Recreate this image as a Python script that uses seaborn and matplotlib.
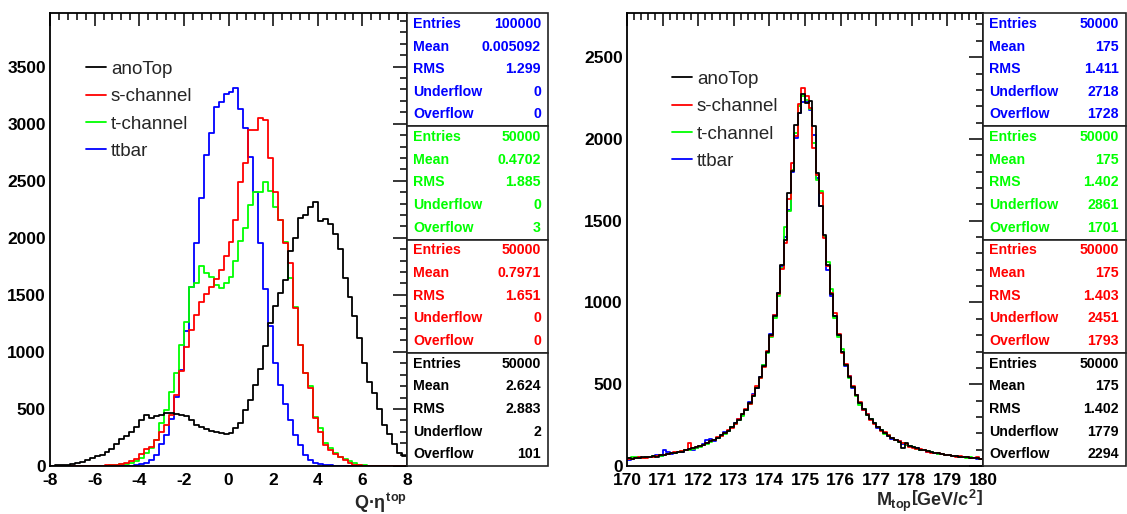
import numpy as np
import pandas as pd
import seaborn as sns
import matplotlib
matplotlib.use("Agg")
import matplotlib.pyplot as plt
from matplotlib.ticker import MultipleLocator
from matplotlib.lines import Line2D
from matplotlib.patches import Rectangle

# ---------------- data ----------------
samples = ["anoTop", "s-channel", "t-channel", "ttbar"]
sample_colors = {"anoTop": "#000000", "s-channel": "#ff0000",
                 "t-channel": "#00ff00", "ttbar": "#0000ff"}

# Q*eta(top): 72 bins on [-8, 8]
qeta_range = (-8.0, 8.0)
qeta_nbins = 72
qeta_anotop = [3, 5, 8, 12, 18, 22, 35, 50, 70, 85,
               100, 120, 150, 190, 235, 265, 300, 340, 400, 445,
               420, 435, 450, 462, 465, 458, 450, 440, 405, 360,
               340, 320, 310, 300, 290, 280, 290, 330, 380, 490,
               580, 710, 850, 1050, 1250, 1400, 1520, 1630, 1880, 2000,
               2170, 2200, 2270, 2315, 2150, 2165, 2120, 2030, 1900, 1650,
               1485, 1315, 1120, 900, 740, 640, 500, 360, 280, 190,
               115, 90]
qeta_schan = [0, 0, 0, 0, 0, 0, 0, 0, 1, 2,
              3, 5, 8, 12, 18, 25, 40, 65, 105, 150,
              170, 225, 300, 360, 450, 620, 830, 1040, 1190, 1320,
              1440, 1510, 1570, 1640, 1720, 1840, 1960, 2157, 2485, 2654,
              2947, 2947, 3049, 3035, 2698, 2405, 2160, 1950, 1778, 1382,
              1061, 812, 680, 418, 301, 184, 140, 105, 82, 53,
              23, 10, 5, 2, 1, 0, 0, 0, 0, 0,
              0, 0]
qeta_tchan = [0, 0, 0, 0, 0, 0, 0, 0, 0, 1,
              2, 4, 6, 10, 15, 20, 30, 45, 70, 111,
              155, 228, 374, 491, 652, 812, 1061, 1266, 1570, 1600,
              1754, 1690, 1660, 1586, 1558, 1603, 1660, 1800, 1974, 2090,
              2290, 2397, 2405, 2485, 2414, 2274, 2157, 1967, 1646, 1390,
              1060, 818, 700, 430, 330, 200, 155, 111, 80, 60,
              40, 23, 12, 6, 3, 1, 0, 0, 0, 0,
              0, 0]
qeta_ttbar = [0, 0, 0, 0, 0, 0, 0, 0, 0, 0,
              0, 0, 0, 0, 0, 2, 4, 8, 15, 30,
              55, 100, 190, 270, 410, 608, 840, 1180, 1570, 1958,
              2347, 2727, 2917, 3145, 3189, 3262, 3280, 3312, 3128, 2961,
              2707, 2397, 1958, 1550, 1230, 900, 711, 540, 400, 270,
              185, 100, 55, 30, 18, 10, 6, 4, 2, 1,
              0, 0, 0, 0, 0, 0, 0, 0, 0, 0,
              0, 0]

# M(top): 100 bins on [170, 180] GeV/c^2
mtop_range = (170.0, 180.0)
mtop_nbins = 100
mtop_anotop = [47, 42, 48, 50, 55, 52, 56, 62, 58, 65,
               70, 74, 78, 80, 85, 88, 96, 102, 108, 115,
               122, 130, 138, 150, 158, 170, 188, 200, 215, 236,
               262, 280, 318, 345, 388, 430, 480, 546, 612, 700,
               800, 920, 1060, 1230, 1383, 1669, 1801, 2083, 2158, 2277,
               2220, 2234, 2077, 1790, 1587, 1414, 1230, 1050, 918, 800,
               700, 615, 545, 482, 432, 386, 348, 312, 285, 260,
               238, 218, 200, 186, 172, 160, 145, 110, 140, 120,
               114, 108, 100, 96, 90, 86, 80, 77, 74, 70,
               66, 63, 60, 58, 55, 53, 50, 48, 46, 44]
mtop_schan = [45, 40, 50, 52, 48, 50, 58, 55, 62, 68,
              70, 72, 80, 84, 86, 92, 95, 140, 110, 115,
              125, 128, 140, 150, 158, 175, 185, 200, 222, 232,
              255, 290, 318, 350, 380, 432, 488, 538, 605, 705,
              795, 925, 1050, 1205, 1363, 1634, 1852, 2016, 2213, 2311,
              2260, 2189, 1944, 1781, 1669, 1393, 1220, 1060, 935, 805,
              690, 625, 548, 490, 436, 392, 340, 320, 280, 255,
              240, 215, 205, 190, 170, 158, 150, 140, 132, 118,
              112, 105, 102, 95, 88, 82, 80, 78, 72, 68,
              65, 64, 58, 60, 55, 52, 50, 47, 52, 42]
mtop_tchan = [50, 58, 55, 48, 50, 56, 55, 62, 60, 64,
              68, 75, 78, 80, 88, 90, 96, 98, 105, 112,
              118, 126, 135, 145, 160, 170, 182, 198, 212, 240,
              258, 280, 305, 340, 380, 425, 485, 540, 615, 690,
              790, 905, 1040, 1210, 1460, 1557, 1810, 2036, 2199, 2260,
              2240, 2180, 1975, 1750, 1679, 1400, 1250, 1080, 905, 790,
              715, 620, 540, 485, 425, 375, 350, 310, 290, 265,
              238, 218, 198, 188, 172, 160, 148, 140, 128, 122,
              115, 105, 98, 96, 92, 85, 78, 76, 74, 70,
              66, 62, 60, 56, 54, 50, 52, 48, 46, 45]
mtop_ttbar = [38, 44, 46, 50, 49, 55, 53, 60, 66, 62,
              95, 88, 75, 80, 84, 88, 97, 104, 100, 113,
              120, 132, 160, 165, 155, 170, 190, 205, 215, 238,
              262, 286, 312, 345, 392, 440, 478, 545, 620, 700,
              810, 925, 1060, 1220, 1400, 1565, 1795, 2005, 2160, 2226,
              2224, 2179, 2026, 1760, 1590, 1398, 1200, 1040, 920, 800,
              700, 610, 550, 478, 432, 385, 345, 318, 285, 262,
              235, 220, 200, 185, 168, 162, 150, 136, 128, 122,
              115, 110, 100, 96, 88, 86, 80, 76, 72, 70,
              66, 62, 60, 56, 54, 52, 48, 49, 45, 44]

# statistics boxes (top to bottom: ttbar, t-channel, s-channel, anoTop)
stat_names = ["Entries", "Mean", "RMS", "Underflow", "Overflow"]
box_order = ["ttbar", "t-channel", "s-channel", "anoTop"]
qeta_stats = {
    "ttbar": ["100000", "0.005092", "1.299", "0", "0"],
    "t-channel": ["50000", "0.4702", "1.885", "0", "3"],
    "s-channel": ["50000", "0.7971", "1.651", "0", "0"],
    "anoTop": ["50000", "2.624", "2.883", "2", "101"],
}
mtop_stats = {
    "ttbar": ["50000", "175", "1.411", "2718", "1728"],
    "t-channel": ["50000", "175", "1.402", "2861", "1701"],
    "s-channel": ["50000", "175", "1.403", "2451", "1793"],
    "anoTop": ["50000", "175", "1.402", "1779", "2294"],
}

# ---------------- style ----------------
sns.set_style("white")
plt.rcParams["font.family"] = ["Liberation Sans", "DejaVu Sans"]
plt.rcParams["font.weight"] = "bold"
plt.rcParams["axes.unicode_minus"] = False
plt.rcParams["mathtext.fontset"] = "custom"
plt.rcParams["mathtext.rm"] = "Liberation Sans:bold"
plt.rcParams["mathtext.it"] = "Liberation Sans:bold"
plt.rcParams["mathtext.bf"] = "Liberation Sans:bold"

W, H = 1127, 514
fig = plt.figure(figsize=(W / 100, H / 100), dpi=100)
fig.patch.set_facecolor("white")

TOP, BOTTOM = 13, 466


def px_axes(left, right):
    return fig.add_axes([left / W, 1 - BOTTOM / H, (right - left) / W,
                         (BOTTOM - TOP) / H])


def draw_panel(ax, nbins, xrange_, series, ylim, xmaj, xmin):
    edges = np.linspace(xrange_[0], xrange_[1], nbins + 1)
    centers = 0.5 * (edges[:-1] + edges[1:])
    for name in ["ttbar", "t-channel", "s-channel", "anoTop"]:
        df = pd.DataFrame({"x": centers, "n": series[name]})
        sns.histplot(data=df, x="x", weights="n", bins=nbins,
                     binrange=xrange_, element="step", fill=False,
                     color=sample_colors[name], linewidth=1.3, ax=ax)
    ax.set_xlim(*xrange_)
    ax.set_ylim(*ylim)
    ax.set_ylabel("")
    ax.xaxis.set_major_locator(MultipleLocator(xmaj))
    ax.xaxis.set_minor_locator(MultipleLocator(xmin))
    ax.yaxis.set_major_locator(MultipleLocator(500))
    ax.yaxis.set_minor_locator(MultipleLocator(100))
    ax.tick_params(which="both", direction="in", top=True, right=True,
                   width=1.1, colors="black", labelsize=12.5)
    ax.tick_params(axis="x", which="major", length=9, pad=5)
    ax.tick_params(axis="x", which="minor", length=5)
    ax.tick_params(axis="y", which="major", length=10, pad=3)
    ax.tick_params(axis="y", which="minor", length=5)
    for s in ax.spines.values():
        s.set_linewidth(1.3)
        s.set_color("black")
    return [Line2D([], [], color=sample_colors[n], lw=1.3) for n in samples]


def draw_stats(left, right, stats):
    h = (BOTTOM - TOP) / 4
    for i, name in enumerate(box_order):
        y0 = TOP + i * h
        fig.add_artist(Rectangle((left / W, 1 - (y0 + h) / H),
                                 (right - left) / W, h / H,
                                 transform=fig.transFigure, facecolor="white",
                                 edgecolor="#222222", lw=1.2, zorder=5))
        for r, (lab, val) in enumerate(zip(stat_names, stats[name])):
            yc = y0 + 11 + r * 22.6
            fig.text((left + 6) / W, 1 - yc / H, lab, color=sample_colors[name],
                     ha="left", va="center", fontsize=10.2, fontweight="bold",
                     zorder=6)
            fig.text((right - 7) / W, 1 - yc / H, val, color=sample_colors[name],
                     ha="right", va="center", fontsize=10.2, fontweight="bold",
                     zorder=6)


legend_kw = dict(frameon=False, prop={"size": 13.5, "weight": "normal"},
                 handlelength=1.1, handletextpad=0.25, labelspacing=0.55,
                 borderpad=0, borderaxespad=0)

# ---------------- left panel: Q*eta ----------------
ax1 = px_axes(50, 407)
h1 = draw_panel(ax1, qeta_nbins, qeta_range,
                {"anoTop": qeta_anotop, "s-channel": qeta_schan,
                 "t-channel": qeta_tchan, "ttbar": qeta_ttbar},
                (0, 3970), 2, 0.4)
ax1.set_xlabel(r"Q·$\eta^{top}$", loc="right", fontsize=13,
               fontweight="bold", labelpad=2)
ax1.legend(h1, samples, loc="upper left", bbox_to_anchor=(0.10, 0.895),
           **legend_kw)
draw_stats(407, 548, qeta_stats)

# ---------------- right panel: M(top) ----------------
ax2 = px_axes(627, 983)
h2 = draw_panel(ax2, mtop_nbins, mtop_range,
                {"anoTop": mtop_anotop, "s-channel": mtop_schan,
                 "t-channel": mtop_tchan, "ttbar": mtop_ttbar},
                (0, 2770), 1, 0.2)
ax2.set_xlabel(r"$M_{top}\left[GeV/c^{2}\right]$", loc="right", fontsize=13,
               fontweight="bold", labelpad=0)
ax2.legend(h2, samples, loc="upper left", bbox_to_anchor=(0.125, 0.873),
           **legend_kw)
draw_stats(983, 1126, mtop_stats)

fig.savefig("out.png", dpi=100, facecolor="white")
